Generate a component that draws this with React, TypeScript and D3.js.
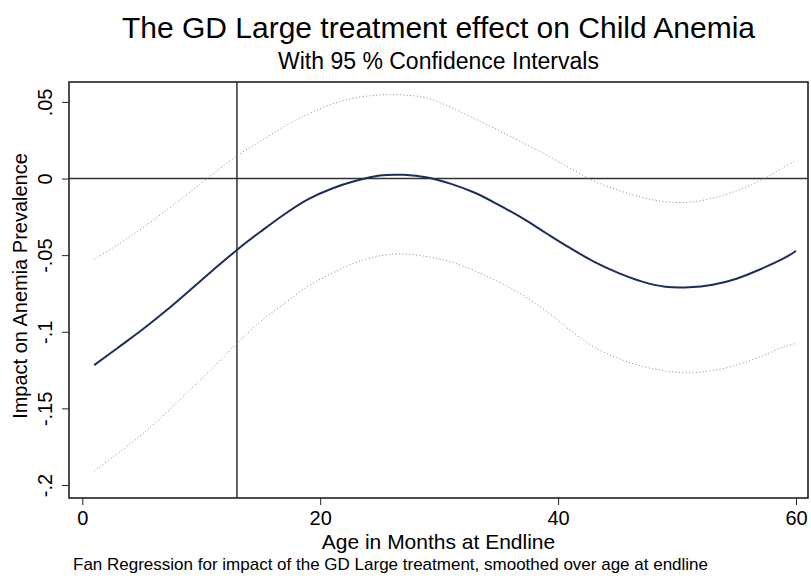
import React, { useEffect, useRef } from 'react';
import * as d3 from 'd3';

// age in months at endline (smoothed grid)
const ages = [1, 3, 5, 7, 9, 11, 13, 15, 17, 19, 21, 23, 25, 27, 29, 31, 33, 35, 37, 39, 41, 43, 45, 47, 49, 51, 53, 55, 57, 59, 60];

const effect = [
  -0.1218, -0.1104, -0.0989, -0.0865, -0.0732, -0.0597, -0.0466, -0.0346, -0.0233, -0.0135, -0.0065, -0.0015, 0.002, 0.0024, 0.0007,
  -0.0035, -0.0093, -0.0172, -0.0259, -0.0357, -0.0453, -0.0542, -0.0614, -0.0671, -0.0706, -0.071, -0.0693, -0.0654, -0.0592, -0.052, -0.0473,
];

const upperCI = [
  -0.0525, -0.0431, -0.0327, -0.0211, -0.0093, 0.0031, 0.0148, 0.0244, 0.034, 0.0421, 0.0486, 0.0527, 0.0545, 0.0545, 0.0525,
  0.0464, 0.039, 0.0314, 0.0235, 0.0155, 0.0068, -0.0015, -0.0075, -0.0122, -0.0152, -0.0155, -0.0128, -0.008, -0.0013, 0.0075, 0.0118,
];

const lowerCI = [
  -0.1908, -0.1793, -0.1671, -0.1533, -0.1383, -0.1233, -0.1076, -0.0932, -0.0815, -0.0701, -0.0618, -0.0547, -0.0505, -0.0492, -0.051,
  -0.0544, -0.0603, -0.0675, -0.076, -0.0865, -0.0989, -0.1098, -0.1172, -0.1224, -0.1255, -0.1268, -0.1252, -0.1218, -0.1163, -0.1098, -0.1076,
];

const xTicks = [0, 20, 40, 60];
const yTicks = [0.05, 0, -0.05, -0.1, -0.15, -0.2];
const yTickLabels = ['.05', '0', '-.05', '-.1', '-.15', '-.2'];

const refAge = 13;
const refEffect = 0;

const W = 811;
const H = 582;
const FONT = '"Liberation Sans", Arial, Helvetica, sans-serif';

const App = () => {
  const ref = useRef<SVGSVGElement | null>(null);

  useEffect(() => {
    const svg = d3.select(ref.current);
    svg.selectAll('*').remove();

    const plot = { left: 69, right: 808, top: 82, bottom: 498 };

    const x = d3.scaleLinear().domain([0, 60]).range([82.3, 796]);
    const y = d3.scaleLinear().domain([-0.2, 0.05]).range([485, 101.9]);

    svg.append('rect').attr('width', W).attr('height', H).attr('fill', '#fff');

    // reference lines
    svg
      .append('line')
      .attr('x1', plot.left)
      .attr('x2', plot.right)
      .attr('y1', y(refEffect))
      .attr('y2', y(refEffect))
      .attr('stroke', '#333')
      .attr('stroke-width', 1.5);

    svg
      .append('line')
      .attr('x1', x(refAge))
      .attr('x2', x(refAge))
      .attr('y1', plot.top)
      .attr('y2', plot.bottom)
      .attr('stroke', '#333')
      .attr('stroke-width', 1.5);

    const rows = ages.map((a, i) => ({ a, e: effect[i], u: upperCI[i], l: lowerCI[i] }));

    const mk = (key: 'e' | 'u' | 'l') =>
      d3
        .line<{ a: number; e: number; u: number; l: number }>()
        .x((d) => x(d.a))
        .y((d) => y(d[key]))
        .curve(d3.curveCatmullRom);

    // confidence bands (dotted)
    ['u', 'l'].forEach((k) => {
      svg
        .append('path')
        .datum(rows)
        .attr('fill', 'none')
        .attr('stroke', '#8a8a8a')
        .attr('stroke-width', 1)
        .attr('stroke-dasharray', '1 2.4')
        .attr('d', mk(k as 'u' | 'l'));
    });

    // point estimate
    svg
      .append('path')
      .datum(rows)
      .attr('fill', 'none')
      .attr('stroke', '#1c2d5c')
      .attr('stroke-width', 2)
      .attr('d', mk('e'));

    // plot border
    svg
      .append('rect')
      .attr('x', plot.left)
      .attr('y', plot.top)
      .attr('width', plot.right - plot.left)
      .attr('height', plot.bottom - plot.top)
      .attr('fill', 'none')
      .attr('stroke', '#222')
      .attr('stroke-width', 1.6);

    // x axis
    const xAxis = svg
      .append('g')
      .attr('transform', `translate(0,${plot.bottom})`)
      .call(d3.axisBottom(x).tickValues(xTicks).tickSize(7).tickPadding(6).tickFormat(d3.format('d')));
    xAxis.select('.domain').remove();
    xAxis.selectAll('line').attr('stroke', '#222');
    xAxis.selectAll('text').attr('font-family', FONT).attr('font-size', 20).attr('fill', '#000');

    // y axis, rotated labels
    const yAxis = svg
      .append('g')
      .attr('transform', `translate(${plot.left},0)`)
      .call(
        d3
          .axisLeft(y)
          .tickValues(yTicks)
          .tickSize(7)
          .tickFormat((d, i) => yTickLabels[i])
      );
    yAxis.select('.domain').remove();
    yAxis.selectAll('line').attr('stroke', '#222');
    yAxis
      .selectAll('text')
      .attr('font-family', FONT)
      .attr('font-size', 20)
      .attr('fill', '#000')
      .attr('text-anchor', 'middle')
      .attr('transform', 'rotate(-90)')
      .attr('x', 0)
      .attr('y', -17)
      .attr('dy', 0);

    // titles
    const cx = (plot.left + plot.right) / 2;
    svg
      .append('text')
      .attr('x', cx)
      .attr('y', 38)
      .attr('text-anchor', 'middle')
      .attr('font-family', FONT)
      .attr('font-size', 30)
      .text('The GD Large treatment effect on Child Anemia');

    svg
      .append('text')
      .attr('x', cx)
      .attr('y', 68.5)
      .attr('text-anchor', 'middle')
      .attr('font-family', FONT)
      .attr('font-size', 23)
      .text('With 95 % Confidence Intervals');

    svg
      .append('text')
      .attr('x', cx)
      .attr('y', 549)
      .attr('text-anchor', 'middle')
      .attr('font-family', FONT)
      .attr('font-size', 21)
      .text('Age in Months at Endline');

    svg
      .append('text')
      .attr('transform', `translate(27,286) rotate(-90)`)
      .attr('text-anchor', 'middle')
      .attr('font-family', FONT)
      .attr('font-size', 20)
      .text('Impact on Anemia Prevalence');

    svg
      .append('text')
      .attr('x', 73)
      .attr('y', 570)
      .attr('font-family', FONT)
      .attr('font-size', 17)
      .text('Fan Regression for impact of the GD Large treatment, smoothed over age at endline');
  }, []);

  return (
    <svg
      ref={ref}
      width={W}
      height={H}
      style={{ position: 'absolute', left: 0, top: 0, display: 'block' }}
    />
  );
};

export default App;
